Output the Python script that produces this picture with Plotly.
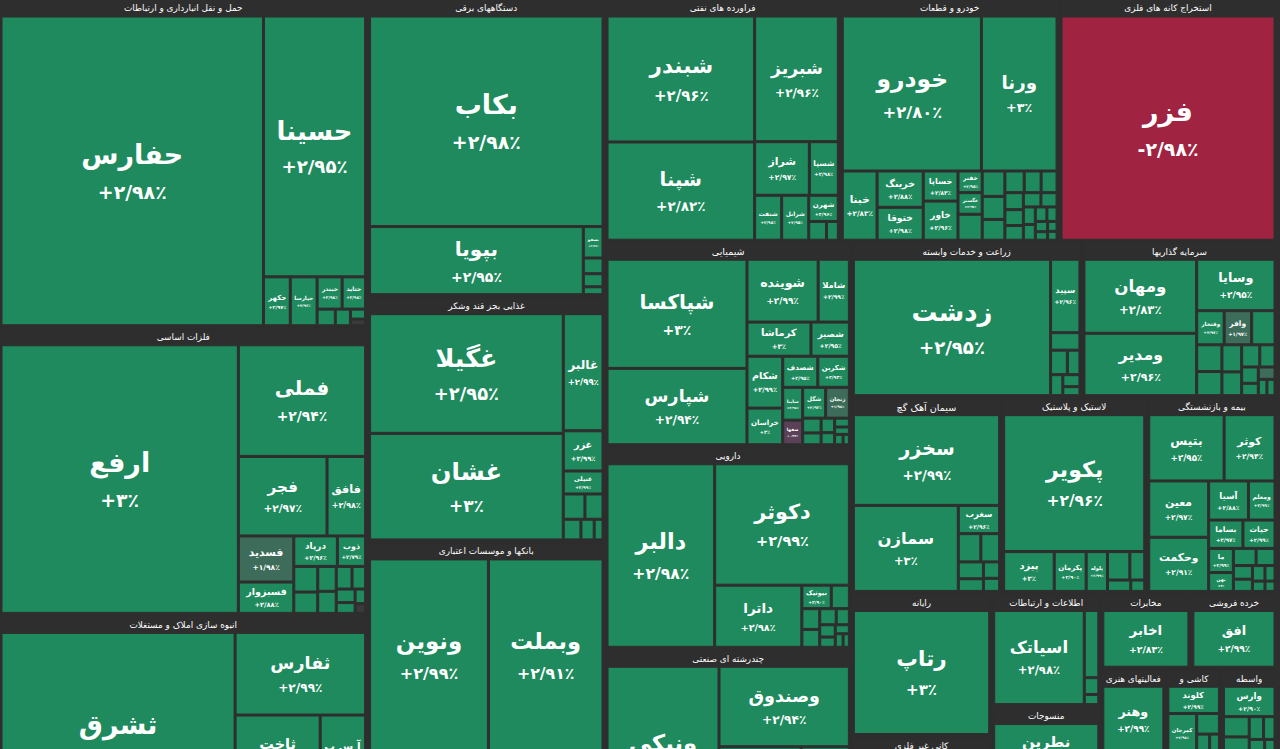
import math
import plotly.graph_objects as go

# ---- data ----
# sectors in the order they appear, with their total market weight (thousands)
sector_names = [
    "حمل و نقل انبارداری و ارتباطات", "فلزات اساسی", "انبوه سازی املاک و مستغلات", "دستگاههای برقی",
    "غذایی بجز قند وشکر", "بانکها و موسسات اعتباری", "فراورده های نفتی", "خودرو و قطعات",
    "استخراج کانه های فلزی", "شیمیایی", "دارویی", "چندرشته ای صنعتی", "زراعت و خدمات وابسته",
    "سرمایه گذاریها", "سیمان آهک گچ", "لاستیک و پلاستیک", "بیمه و بازنشستگی", "رایانه",
    "کانی غیر فلزی", "اطلاعات و ارتباطات", "منسوجات", "مخابرات", "خرده فروشی", "فعالیتهای هنری",
    "کاشی و", "واسطه", "فنی و مهندسی", "هتل و", "عرضه", "قند و شکر",
]
sector_weights = [120.7, 105.6, 86.5, 70.4, 58.0, 73.1, 57.0, 53.0, 52.8, 50.2, 49.7, 49.5, 35.7,
                  30.2, 29.3, 28.3, 25.4, 20.0, 16.0, 12.3, 15.7, 6.8, 6.5, 5.5, 4.7, 4.7, 7.0, 3.0, 2.5, 4.5]

# stocks inside each sector: (ticker, relative weight, % change)
transport = [("حفارس", 80600, 2.98), ("حسینا", 26400, 2.95), ("حکهر", 1300, 2.97), ("حپارسا", 1300, 2.96),
             ("حبندر", 800, 2.98), ("حتاید", 750, 2.98), ("", 300, 2.9), ("", 250, 2.9), ("", 150, 2.9), ("", 100, 0)]
metals = [("ارفع", 62400, 3.0), ("فملی", 13900, 2.94), ("فجر", 6900, 2.97), ("فافق", 3000, 2.98),
          ("فسدید", 2500, 1.98), ("فسبزوار", 1700, 2.88), ("درپاد", 1300, 2.96), ("ذوب", 840, 2.79),
          ("", 600, 2.9), ("", 500, 2.9), ("", 450, 2.9), ("", 400, 2.9), ("", 350, 2.9), ("", 300, 2.9),
          ("", 250, 2.9), ("", 200, 2.9), ("", 150, 2.9), ("", 100, 0)]
real_estate = [("ثشرق", 47000, 2.98), ("ثفارس", 10000, 2.99), ("ثاخت", 6000, 2.95), ("آ س پ", 3200, 2.9),
               ("", 3000, 2.9), ("", 2000, 2.9), ("", 1200, 2.9), ("", 800, 2.9)]
electrical = [("بکاب", 47600, 2.98), ("بپویا", 14100, 2.95), ("بسفو", 600, 2.99), ("", 300, 2.9),
              ("", 250, 2.9), ("", 150, 2.9)]
food = [("غگیلا", 25400, 2.95), ("غشان", 22600, 3.0), ("غالبر", 5100, 2.99), ("غزر", 1750, 2.99),
        ("غنیلی", 1000, 2.99), ("", 600, 2.9), ("", 500, 2.9), ("", 400, 2.9), ("", 300, 2.9), ("", 200, 2.9)]
banks = [("ونوین", 19700, 2.99), ("وبملت", 19000, 2.91), ("", 7000, 2.9), ("", 5000, 2.9), ("", 3500, 2.9),
         ("", 2500, 2.9), ("", 1500, 2.9)]
oil = [("شبندر", 16800, 2.96), ("شپنا", 13100, 2.82), ("شبریز", 9500, 2.96), ("شراز", 2650, 2.97),
       ("شسپا", 1400, 2.98), ("شنفت", 1100, 2.98), ("شرانل", 1100, 2.95), ("شهرن", 700, 2.96),
       ("", 300, 2.9), ("", 200, 2.9)]
auto = [("خودرو", 20600, 2.80), ("ورنا", 11200, 3.0), ("خبنا", 2300, 2.83), ("خرینگ", 1600, 2.88),
        ("ختوقا", 1450, 2.98), ("خساپا", 1000, 2.83), ("خاور", 1300, 2.96), ("خفنر", 500, 2.95),
        ("خگستر", 500, 2.97), ("", 600, 2.9), ("", 550, 2.9), ("", 500, 2.9), ("", 450, 2.9), ("", 400, 2.9),
        ("", 350, 2.9), ("", 330, 2.9), ("", 300, 2.9), ("", 280, 2.9), ("", 260, 2.9), ("", 240, 2.9),
        ("", 220, 2.9), ("", 200, 2.9), ("", 180, 2.9), ("", 160, 2.9), ("", 140, 2.9), ("", 120, 2.9),
        ("", 100, 2.9), ("", 90, 2.9), ("", 80, 2.9)]
mining = [("فزر", 45800, -2.98)]
chemicals = [("شپاکسا", 14000, 3.0), ("شپارس", 9800, 2.94), ("شوینده", 4100, 2.99), ("شاملا", 1800, 2.99),
             ("کرماشا", 2000, 3.0), ("شصیر", 1200, 2.95), ("شکام", 1700, 2.99), ("خراسان", 1200, 3.0),
             ("شصدف", 1000, 2.95), ("شکربن", 900, 2.93), ("ساینا", 600, 2.98), ("صفها", 450, 0.93),
             ("شگل", 650, 2.93), ("زنجان", 670, 1.98), ("", 250, 2.9), ("", 200, 2.9), ("", 180, 2.9),
             ("", 150, 2.9), ("", 120, 2.9), ("", 100, 2.9), ("", 80, 2.9), ("", 60, 2.9)]
pharma = [("دالبر", 18600, 2.98), ("دکوثر", 15400, 2.99), ("داترا", 5100, 2.98), ("بیوتیک", 650, 2.9),
          ("", 400, 2.9), ("", 350, 2.9), ("", 300, 2.9), ("", 250, 2.9), ("", 200, 2.9), ("", 180, 2.9),
          ("", 150, 2.9), ("", 120, 2.9), ("", 100, 2.9), ("", 80, 2.9)]
multi_industry = [("ونیکی", 19500, 2.95), ("وصندوق", 10000, 2.94), ("", 4500, 2.9), ("", 3500, 2.9),
                  ("", 2500, 2.9), ("", 1500, 2.9), ("", 700, 2.9)]
agriculture = [("زدشت", 26200, 2.95), ("سپید", 2100, 2.96), ("", 500, 2.9), ("", 400, 2.9), ("", 300, 2.9),
               ("", 250, 2.9), ("", 200, 2.9), ("", 150, 2.9)]
investment = [("ومهان", 8900, 2.83), ("ومدیر", 7500, 2.96), ("وسایا", 4300, 2.95), ("وفتخار", 1000, 2.97),
              ("وافر", 1000, 1.97), ("", 850, 2.9), ("", 720, 2.9), ("", 650, 2.9), ("", 570, 2.9),
              ("", 500, 2.9), ("", 430, 2.9), ("", 360, 2.9), ("", 290, 2.9), ("", 220, 2.9),
              ("", 220, 1.9), ("", 150, 2.9), ("", 140, 2.9)]
cement = [("سخزر", 12500, 2.99), ("سمازن", 8500, 3.0), ("سغرب", 1100, 2.96), ("", 600, 2.9), ("", 500, 2.9),
          ("", 400, 2.9), ("", 300, 2.9), ("", 250, 2.9), ("", 200, 2.9)]
rubber = [("پکویر", 18200, 2.96), ("پیزد", 1900, 3.0), ("پکرمان", 1200, 2.90), ("پلوله", 800, 2.99),
          ("", 600, 2.9), ("", 400, 2.9), ("", 250, 2.9), ("", 150, 2.9)]
insurance = [("بتیس", 3850, 2.95), ("کوثر", 2600, 2.94), ("معین", 2600, 2.97), ("وحکمت", 2500, 2.91),
             ("آسیا", 1200, 2.88), ("ومعلم", 800, 2.99), ("بساما", 750, 2.97), ("حیات", 700, 2.99),
             ("ما", 460, 2.99), ("بهن", 360, 3.0), ("", 300, 2.9), ("", 250, 2.9), ("", 200, 2.9),
             ("", 180, 2.9), ("", 150, 2.9), ("", 120, 2.9), ("", 100, 2.9), ("", 80, 2.9)]
computer = [("رتاپ", 17000, 3.0)]
non_metal = [("", 5000, 2.9), ("", 3000, 2.9), ("", 2000, 2.9), ("", 1200, 2.9)]
ict = [("اسیاتک", 8700, 2.98), ("", 1000, 2.9), ("", 250, 2.9), ("", 150, 2.9)]
textiles = [("نطرین", 6500, 2.95), ("نبابک", 1200, 2.98), ("", 3000, 2.9), ("", 2000, 2.9), ("", 1500, 2.9),
            ("", 800, 2.9)]
telecom = [("اخابر", 4800, 2.83)]
retail = [("افق", 4300, 2.99)]
arts = [("وهنر", 4200, 2.99)]
ceramics = [("کلوند", 1200, 2.99), ("کمرجان", 950, 2.98), ("", 400, 2.9), ("", 200, 2.9), ("", 150, 2.9)]
finance = [("وارس", 1200, 2.90), ("", 400, 2.9), ("", 300, 2.9), ("", 250, 2.9), ("", 200, 2.9),
           ("", 150, 2.9), ("", 100, 2.9)]
engineering = [("", 2500, 2.9), ("", 1500, 2.9), ("", 800, 2.9)]
hotels = [("", 1400, 2.9), ("", 600, 2.9)]
utilities = [("", 1200, 2.9), ("", 400, 2.9)]
sugar = [("", 1500, 2.9), ("", 1000, 2.9), ("", 500, 2.9)]

sector_stocks = [transport, metals, real_estate, electrical, food, banks, oil, auto, mining, chemicals,
                 pharma, multi_industry, agriculture, investment, cement, rubber, insurance, computer,
                 non_metal, ict, textiles, telecom, retail, arts, ceramics, finance, engineering, hotels,
                 utilities, sugar]

# ---- helpers ----
FA = str.maketrans("0123456789", "۰۱۲۳۴۵۶۷۸۹")


def fmt_change(c):
    a = abs(c)
    s = str(int(a)) if a == int(a) else f"{a:.2f}".replace(".", "/")
    return ("+" if c >= 0 else "-") + s.translate(FA) + "٪"


def tile_color(c):
    if c < 0:
        return "#a02442"
    if c < 0.5:
        return "#3a3a3a"
    if c < 1.5:
        return "#5a4158"
    if c < 2.5:
        return "#3d6c5a"
    return "#1e8a5d"


BG = "#2e2e2e"
ids, labels, parents, values, colors, texts, sizes = [], [], [], [], [], [], []
for sname, sw, stocks in zip(sector_names, sector_weights, sector_stocks):
    ids.append(sname)
    labels.append(sname)
    parents.append("")
    values.append(0)
    colors.append(BG)
    texts.append(f"<b>{sname}</b>")
    sizes.append(10.5)
    tot = sum(s[1] for s in stocks)
    for k, (tk, w, chg) in enumerate(stocks):
        ids.append(f"{sname}/{k}")
        labels.append(tk if tk else " ")
        parents.append(sname)
        values.append(sw * 1000 * w / tot)
        colors.append(tile_color(chg))
        fs = max(6.0, min(27.0, 4 + 0.135 * math.sqrt(w)))
        ps = round(fs * 0.7, 1)
        if tk:
            texts.append(f"<b>{tk}</b><br><span style='font-size:{ps}px'><b>{fmt_change(chg)}</b></span>")
        else:
            texts.append("")
        sizes.append(round(fs, 1))

fig = go.Figure(go.Treemap(
    ids=ids, labels=labels, parents=parents, values=values,
    branchvalues="remainder",
    text=texts, textinfo="text",
    textposition="middle center",
    textfont=dict(family="DejaVu Sans", color="white", size=sizes),
    marker=dict(colors=colors, line=dict(width=1, color=BG), depthfade=False,
                pad=dict(t=17, l=2, r=2, b=2)),
    tiling=dict(pad=2, packing="squarify"),
    pathbar=dict(visible=False),
    hoverinfo="skip",
    sort=False,
    root=dict(color=BG),
))
fig.update_layout(
    width=1280, height=869,
    margin=dict(l=0, r=0, t=0, b=0),
    paper_bgcolor=BG,
    plot_bgcolor=BG,
    hovermode=False,
    font=dict(family="DejaVu Sans", color="white"),
)
# the hidden root's own header strip is scrolled out of view so the sector headers sit at the top
fig.write_html(
    "out.html",
    config={"staticPlot": True},
    post_script="var d=document.getElementsByClassName('plotly-graph-div')[0];"
                "d.style.transform='translate(-2px,-17px)';document.body.style.background='#2e2e2e';",
)
